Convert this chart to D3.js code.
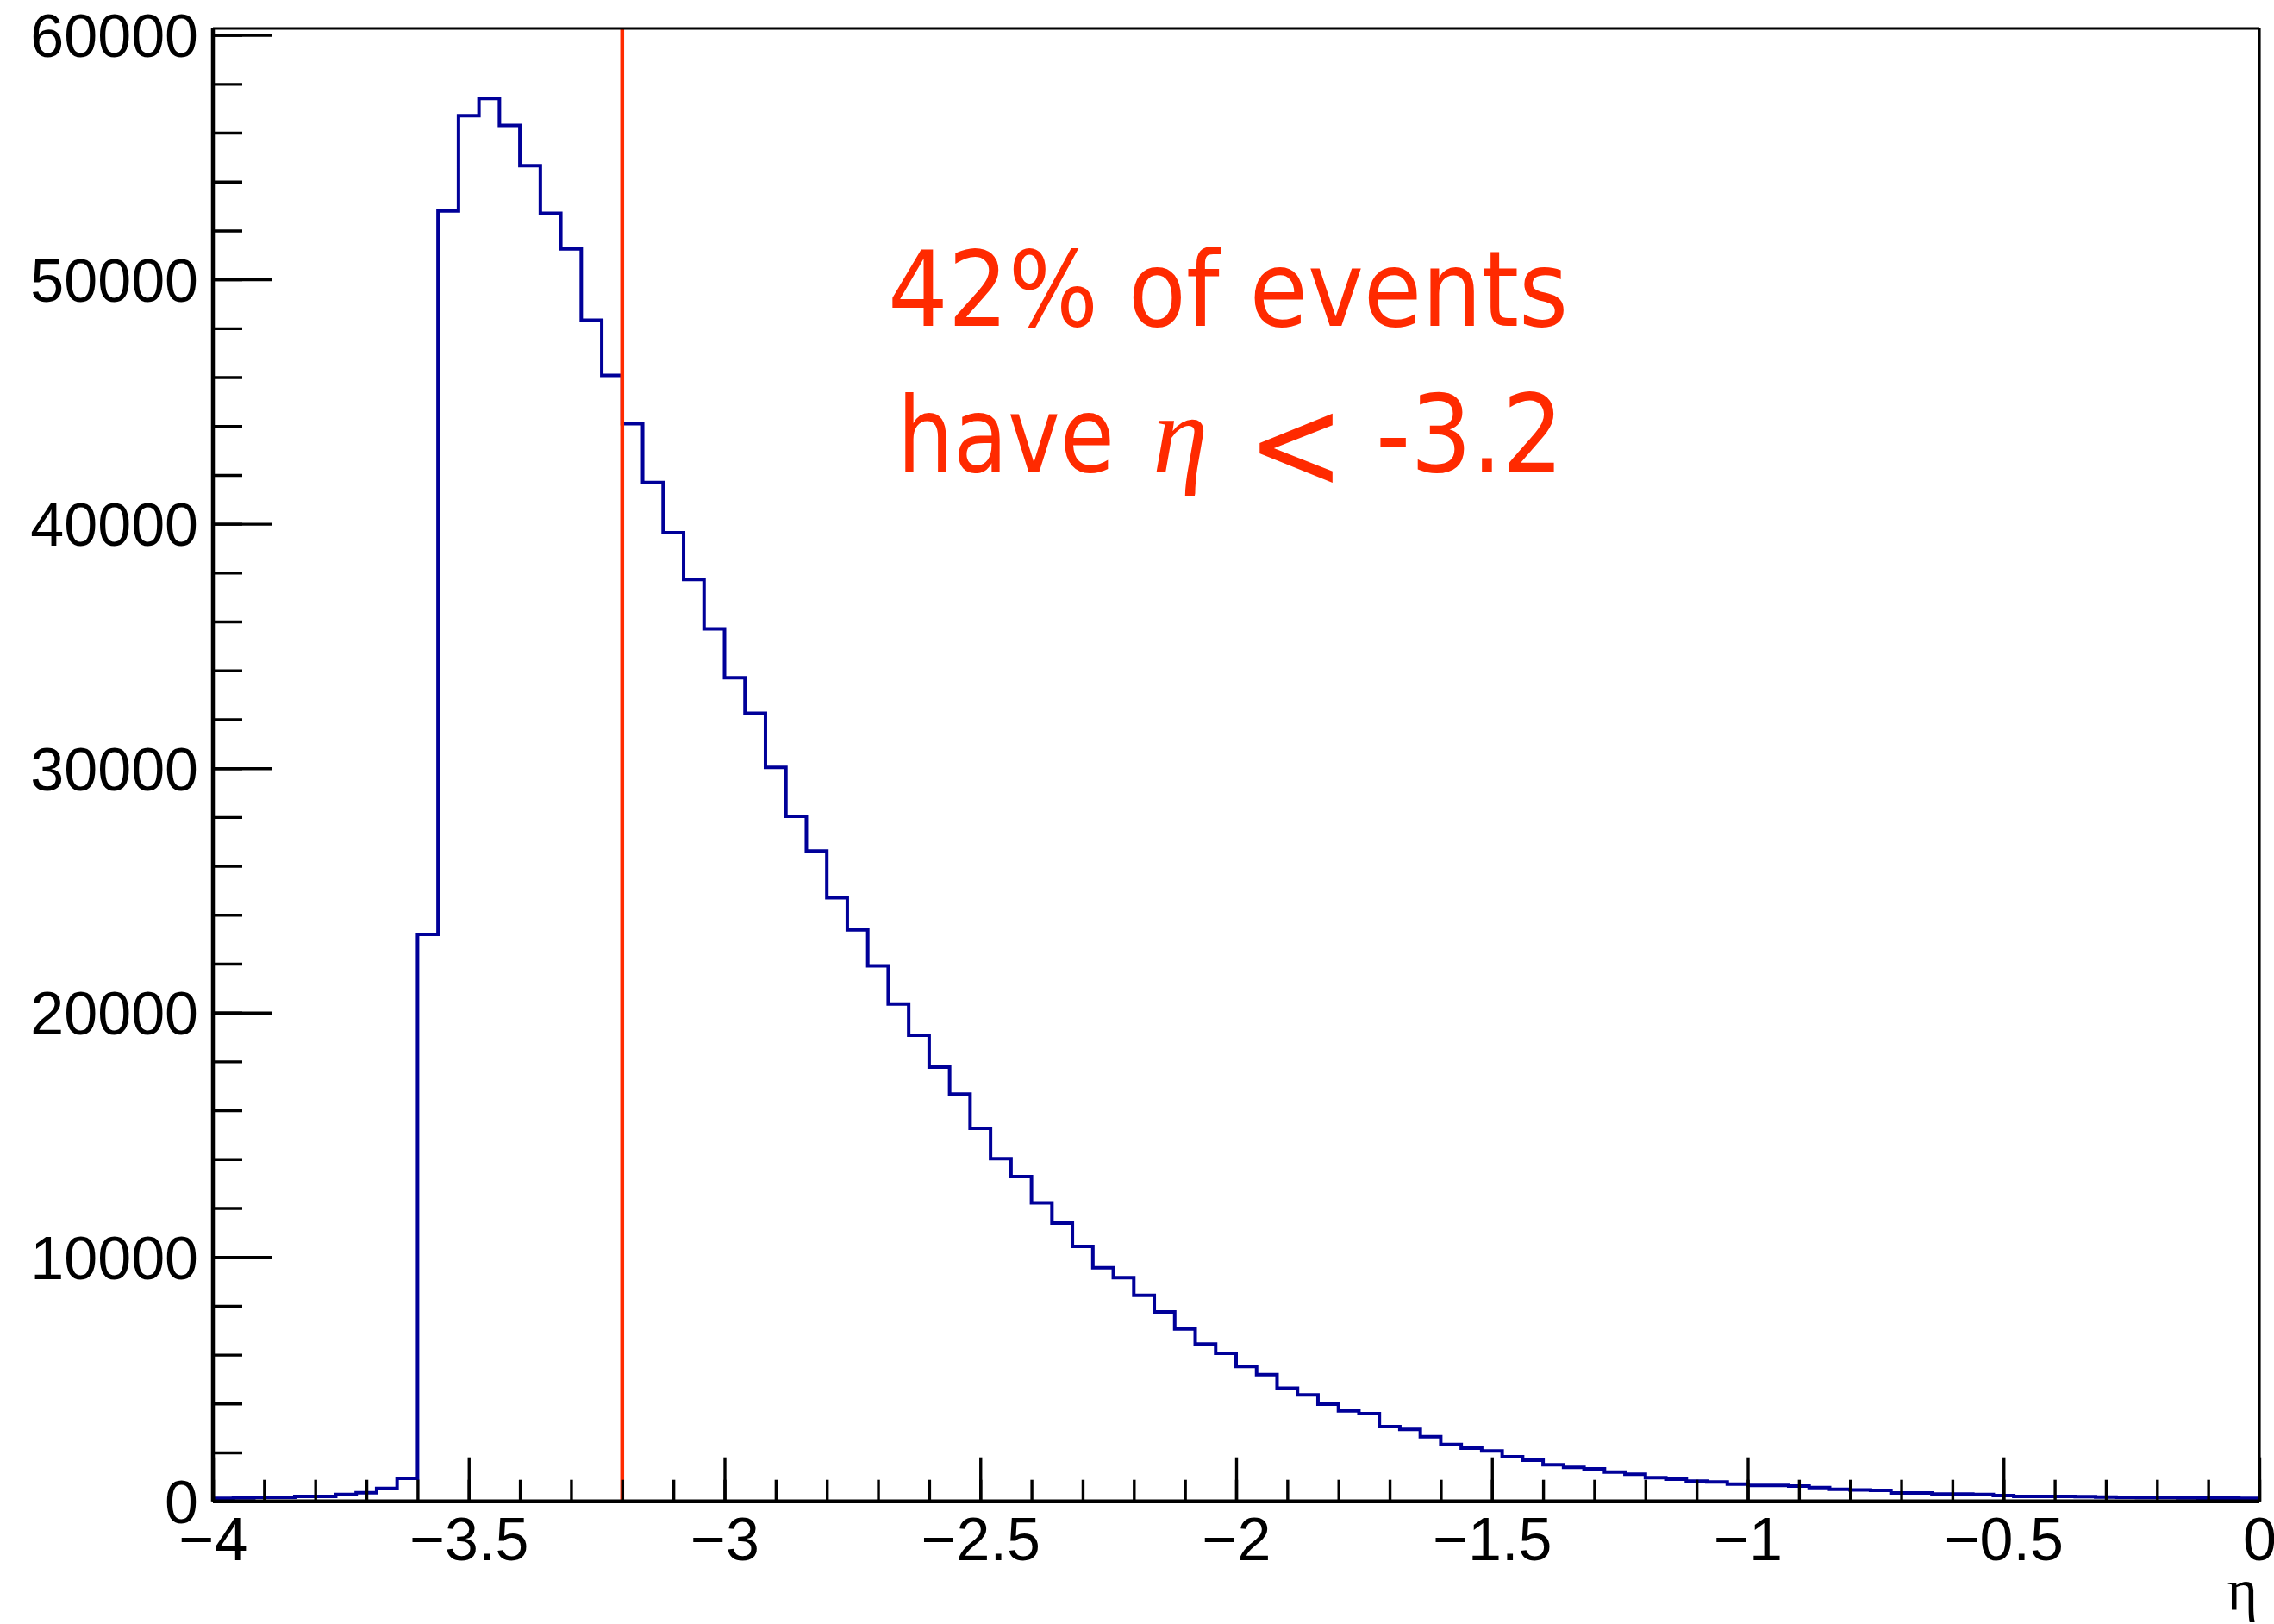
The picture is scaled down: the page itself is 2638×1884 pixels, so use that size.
<!DOCTYPE html>
<html>
<head>
<meta charset="utf-8">
<script src="https://cdn.jsdelivr.net/npm/d3@7"></script>
<style>
  html, body { margin: 0; padding: 0; background: #fff; }
  svg { display: block; }
</style>
</head>
<body>
<svg id="chart" width="2638" height="1884"></svg>
<script>
// Pseudorapidity histogram: 100 bins of width 0.04 between -4 and 0
const etaRange = [-4, 0];
const eventCounts = [
  118, 141, 165, 165, 200, 200, 282, 353, 530, 941,
  23200, 52800, 56700, 57400, 56300, 54650, 52700, 51250, 48330, 46070,
  44100, 41690, 39640, 37720, 35700, 33700, 32250, 30030, 28030, 26610,
  24700, 23380, 21910, 20350, 19075, 17770, 16665, 15265, 14020, 13290,
  12210, 11385, 10430, 9555, 9150, 8430, 7750, 7056, 6435, 6058,
  5520, 5180, 4630, 4351, 3975, 3704, 3587, 3058, 2940, 2646,
  2328, 2176, 2058, 1823, 1682, 1494, 1388, 1329, 1200, 1105,
  964, 906, 823, 788, 706, 650, 650, 623, 564, 494,
  470, 447, 341, 341, 294, 294, 282, 235, 200, 200,
  200, 188, 176, 165, 153, 153, 141, 129, 129, 118
];
const xTickValues = [-4, -3.5, -3, -2.5, -2, -1.5, -1, -0.5, 0];
const xTickLabels = ["\u22124", "\u22123.5", "\u22123", "\u22122.5", "\u22122", "\u22121.5", "\u22121", "\u22120.5", "0"];
const xMinorStep = 0.1;
const yTickValues = [0, 10000, 20000, 30000, 40000, 50000, 60000];
const yTickLabels = ["0", "10000", "20000", "30000", "40000", "50000", "60000"];
const yMinorStep = 2000;
const cutEta = -3.2;
const axisTitle = "\u03b7";
const noteLine1 = "42% of events";
const noteLine2 = ["have", "\u03b7", "<", "-3.2"];

const histColor = "#000099";
const cutColor = "#ff2a00";

const frame = { left: 247, right: 2621, top: 33, bottom: 1741.7 };

const svg = d3.select("#chart");
svg.append("rect").attr("width", 2638).attr("height", 1884).attr("fill", "#fff");

const x = d3.scaleLinear().domain(etaRange).range([frame.left, frame.right]);
const yMax = d3.max(eventCounts) * 1.05;
const y = d3.scaleLinear().domain([0, yMax]).range([frame.bottom, frame.top]);

// bin edges
const binWidth = (etaRange[1] - etaRange[0]) / eventCounts.length;
const steps = eventCounts.map((c, i) => [etaRange[0] + i * binWidth, c]);
steps.push([etaRange[1], eventCounts[eventCounts.length - 1]]);

// histogram outline
const stepLine = d3.line()
  .x(d => x(d[0]))
  .y(d => y(d[1]))
  .curve(d3.curveStepAfter);

svg.append("path")
  .datum(steps)
  .attr("d", stepLine)
  .attr("fill", "none")
  .attr("stroke", histColor)
  .attr("stroke-width", 4)
  .attr("stroke-linejoin", "miter");

// cut line
svg.append("line")
  .attr("x1", x(cutEta)).attr("x2", x(cutEta))
  .attr("y1", y(yMax)).attr("y2", y(0))
  .attr("stroke", cutColor)
  .attr("stroke-width", 4.5);

// frame top and right
svg.append("line")
  .attr("x1", frame.left).attr("x2", frame.right)
  .attr("y1", frame.top).attr("y2", frame.top)
  .attr("stroke", "#000").attr("stroke-width", 3.2);
svg.append("line")
  .attr("x1", frame.right).attr("x2", frame.right)
  .attr("y1", frame.top).attr("y2", frame.bottom)
  .attr("stroke", "#000").attr("stroke-width", 3.2);

const tickFont = "'Liberation Sans', Arial, Helvetica, sans-serif";

// y axis: minor ticks
const yMinorValues = d3.range(0, yMax, yMinorStep);
svg.append("g")
  .attr("transform", `translate(${frame.left},0)`)
  .call(d3.axisLeft(y).tickValues(yMinorValues).tickSizeInner(-34).tickSizeOuter(0).tickFormat(""))
  .call(g => g.select(".domain").remove())
  .call(g => g.selectAll(".tick line").attr("stroke", "#000").attr("stroke-width", 3.4));

// y axis: major ticks and labels
svg.append("g")
  .attr("transform", `translate(${frame.left},0)`)
  .call(d3.axisLeft(y).tickValues(yTickValues).tickSizeInner(-69).tickSizeOuter(0).tickPadding(17)
    .tickFormat((d, i) => yTickLabels[i]))
  .call(g => g.select(".domain").attr("d", `M0,${frame.top}V${frame.bottom}`).attr("stroke", "#000").attr("stroke-width", 4.5))
  .call(g => g.selectAll(".tick line").attr("stroke", "#000").attr("stroke-width", 3.4))
  .call(g => g.selectAll(".tick text")
    .attr("font-family", tickFont).attr("font-size", 70).attr("fill", "#000")
    .attr("dy", "0.358em"));

// x axis: minor ticks
const xMinorValues = d3.range(etaRange[0], etaRange[1] + 1e-9, xMinorStep);
svg.append("g")
  .attr("transform", `translate(0,${frame.bottom})`)
  .call(d3.axisBottom(x).tickValues(xMinorValues).tickSizeInner(-25).tickSizeOuter(0).tickFormat(""))
  .call(g => g.select(".domain").remove())
  .call(g => g.selectAll(".tick line").attr("stroke", "#000").attr("stroke-width", 3.4));

// x axis: major ticks and labels
svg.append("g")
  .attr("transform", `translate(0,${frame.bottom})`)
  .call(d3.axisBottom(x).tickValues(xTickValues).tickSizeInner(-51).tickSizeOuter(0).tickPadding(19)
    .tickFormat((d, i) => xTickLabels[i]))
  .call(g => g.select(".domain").attr("d", `M${frame.left},0H${frame.right}`).attr("stroke", "#000").attr("stroke-width", 4.5))
  .call(g => g.selectAll(".tick line").attr("stroke", "#000").attr("stroke-width", 3.4))
  .call(g => g.selectAll(".tick text")
    .attr("font-family", tickFont).attr("font-size", 70).attr("fill", "#000"));

// x axis title
svg.append("text")
  .attr("x", 2619).attr("y", 1868)
  .attr("text-anchor", "end")
  .attr("font-family", "'Liberation Serif', 'Times New Roman', serif")
  .attr("font-size", 68)
  .attr("fill", "#000")
  .text(axisTitle);

// annotation
const noteFont = "'DejaVu Sans Condensed', 'DejaVu Sans', sans-serif";
const note = svg.append("g").attr("fill", cutColor);

note.append("text")
  .attr("x", 1030).attr("y", 378)
  .attr("font-family", noteFont)
  .attr("font-stretch", "condensed")
  .attr("font-size", 122)
  .text(noteLine1);

note.append("text")
  .attr("x", 1041).attr("y", 547)
  .attr("font-family", noteFont)
  .attr("font-stretch", "condensed")
  .attr("font-size", 122)
  .attr("textLength", 252)
  .attr("lengthAdjust", "spacingAndGlyphs")
  .text(noteLine2[0]);

note.append("text")
  .attr("x", 1337).attr("y", 547)
  .attr("font-family", "'Liberation Serif', 'Times New Roman', serif")
  .attr("font-style", "italic")
  .attr("font-size", 130)
  .text(noteLine2[1]);

note.append("text")
  .attr("x", 1447).attr("y", 567)
  .attr("font-family", noteFont)
  .attr("font-stretch", "condensed")
  .attr("font-size", 150)
  .text(noteLine2[2]);

note.append("text")
  .attr("x", 1596).attr("y", 547)
  .attr("font-family", noteFont)
  .attr("font-stretch", "condensed")
  .attr("font-size", 124)
  .text(noteLine2[3]);
</script>
</body>
</html>
